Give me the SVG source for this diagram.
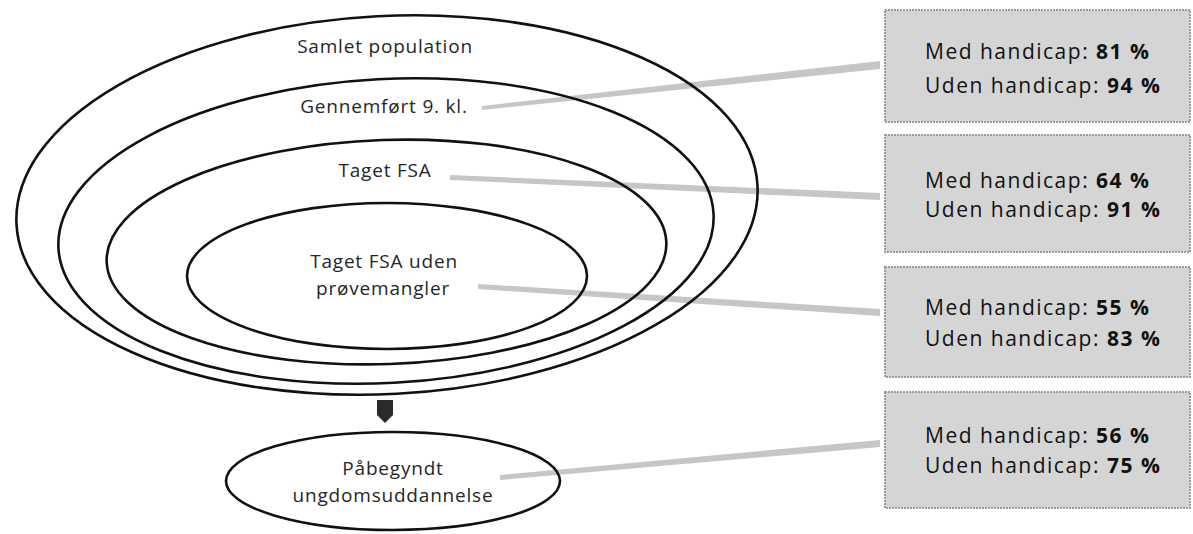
<svg xmlns="http://www.w3.org/2000/svg" width="1193" height="534" viewBox="0 0 1193 534">
<style>
.ring{fill:none;stroke:#111;stroke-width:2.6}
.lbl{font-family:"Open Sans","Liberation Sans",sans-serif;font-size:19px;letter-spacing:0.8px;fill:#262626;text-anchor:middle}
.box{fill:#d5d5d5;stroke:#9c9c9c;stroke-width:2;stroke-dasharray:2 1}
.bt{font-family:"Open Sans","Liberation Sans",sans-serif;font-size:21px;letter-spacing:1.5px;fill:#111}
.b{font-weight:700}
.con{fill:#c6c6c6}
</style>
<g id="connectors">
<polygon class="con" points="482,106 880,61 880,69 482,110"/>
<polygon class="con" points="450,175 880,193 880,200 450,180"/>
<polygon class="con" points="478,284 880,309 880,316 478,289"/>
<polygon class="con" points="500,475 880,440 880,447 500,480"/>
<polygon fill="#2a2a2a" points="377,400 393,400 393,415 385,423 377,415"/>
</g>
<g id="samlet">
<ellipse class="ring" cx="387" cy="205" rx="371" ry="189" transform="rotate(-3 387 205)"/>
<text class="lbl" x="385" y="53">Samlet population</text>
</g>
<g id="gennemfort">
<ellipse class="ring" cx="386" cy="231" rx="328" ry="152" transform="rotate(-3 386 231)"/>
<text class="lbl" x="384" y="113">Gennemført 9. kl.</text>
</g>
<g id="fsa">
<ellipse class="ring" cx="386.5" cy="252" rx="280" ry="112" transform="rotate(-2 386.5 252)"/>
<text class="lbl" x="385" y="177">Taget FSA</text>
</g>
<g id="fsa-uden">
<ellipse class="ring" cx="387" cy="276" rx="200" ry="73"/>
<text class="lbl" x="384" y="268">Taget FSA uden</text>
<text class="lbl" x="383" y="295">prøvemangler</text>
</g>
<g id="paabegyndt">
<ellipse class="ring" cx="393" cy="481" rx="167" ry="49"/>
<text class="lbl" x="393" y="475">Påbegyndt</text>
<text class="lbl" x="393" y="502">ungdomsuddannelse</text>
</g>
<g id="box1">
<rect class="box" x="885" y="10" width="305" height="112"/>
<text class="bt" x="925" y="59">Med handicap: <tspan class="b">81 %</tspan></text>
<text class="bt" x="925" y="93">Uden handicap: <tspan class="b">94 %</tspan></text>
</g>
<g id="box2">
<rect class="box" x="885" y="135" width="305" height="117"/>
<text class="bt" x="925" y="188">Med handicap: <tspan class="b">64 %</tspan></text>
<text class="bt" x="925" y="217">Uden handicap: <tspan class="b">91 %</tspan></text>
</g>
<g id="box3">
<rect class="box" x="885" y="267" width="305" height="110"/>
<text class="bt" x="925" y="315">Med handicap: <tspan class="b">55 %</tspan></text>
<text class="bt" x="925" y="346">Uden handicap: <tspan class="b">83 %</tspan></text>
</g>
<g id="box4">
<rect class="box" x="885" y="392" width="305" height="116"/>
<text class="bt" x="925" y="443">Med handicap: <tspan class="b">56 %</tspan></text>
<text class="bt" x="925" y="473">Uden handicap: <tspan class="b">75 %</tspan></text>
</g>
</svg>
